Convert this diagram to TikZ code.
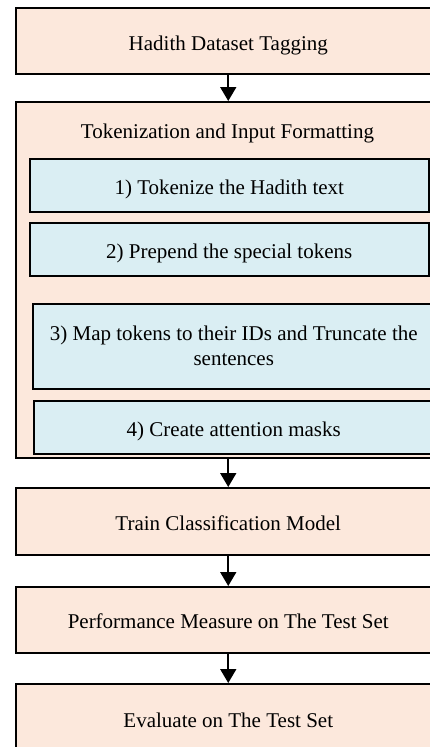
\documentclass[tikz,border=0pt]{standalone}
\usepackage{fontspec}
\setmainfont{Liberation Serif}
\usetikzlibrary{arrows.meta}
\definecolor{peach}{HTML}{FCE8DC}
\definecolor{lblue}{HTML}{DAEEF3}
\begin{document}
\begin{tikzpicture}[x=1pt,y=-1pt,
  font=\fontsize{21}{25}\selectfont,
  box/.style={draw=black,line width=1.5pt,inner sep=0pt,anchor=north west,align=center},
  oneline/.style={text height=18pt,text depth=0pt},
  outer/.style={box,fill=peach,minimum width=425pt},
  inner/.style={box,fill=lblue},
  arr/.style={line width=1.8pt,-{Triangle[width=16pt,length=14pt]}}]
\path[use as bounding box,clip] (0,0) rectangle (430,747);
\node[outer,oneline,minimum height=66pt,text height=20pt] (b1) at (15,7) {Hadith Dataset Tagging};
\node[outer,minimum height=356pt] (b2) at (15,101) {};
\node[anchor=center] (t2) at (227.5,133) {Tokenization and Input Formatting};
\node[inner,oneline,minimum width=399pt,minimum height=53pt] (s1) at (29,158) {1) Tokenize the Hadith text};
\node[inner,oneline,minimum width=399pt,minimum height=53pt] (s2) at (29,222) {2) Prepend the special tokens};
\node[inner,minimum width=402pt,minimum height=85pt] (s3) at (32,303) {3) Map tokens to their IDs and Truncate the\\sentences};
\node[inner,oneline,minimum width=400pt,minimum height=53pt] (s4) at (33,400) {4) Create attention masks};
\node[outer,oneline,minimum height=67pt] (b3) at (15,487) {Train Classification Model};
\node[outer,oneline,minimum height=66pt] (b4) at (15,586) {Performance Measure on The Test Set};
\node[outer,oneline,minimum height=70pt] (b5) at (15,683) {Evaluate on The Test Set};
\draw[arr] (b1.south) -- (b2.north);
\draw[arr] (b2.south) -- (b3.north);
\draw[arr] (b3.south) -- (b4.north);
\draw[arr] (b4.south) -- (b5.north);
\end{tikzpicture}
\end{document}
